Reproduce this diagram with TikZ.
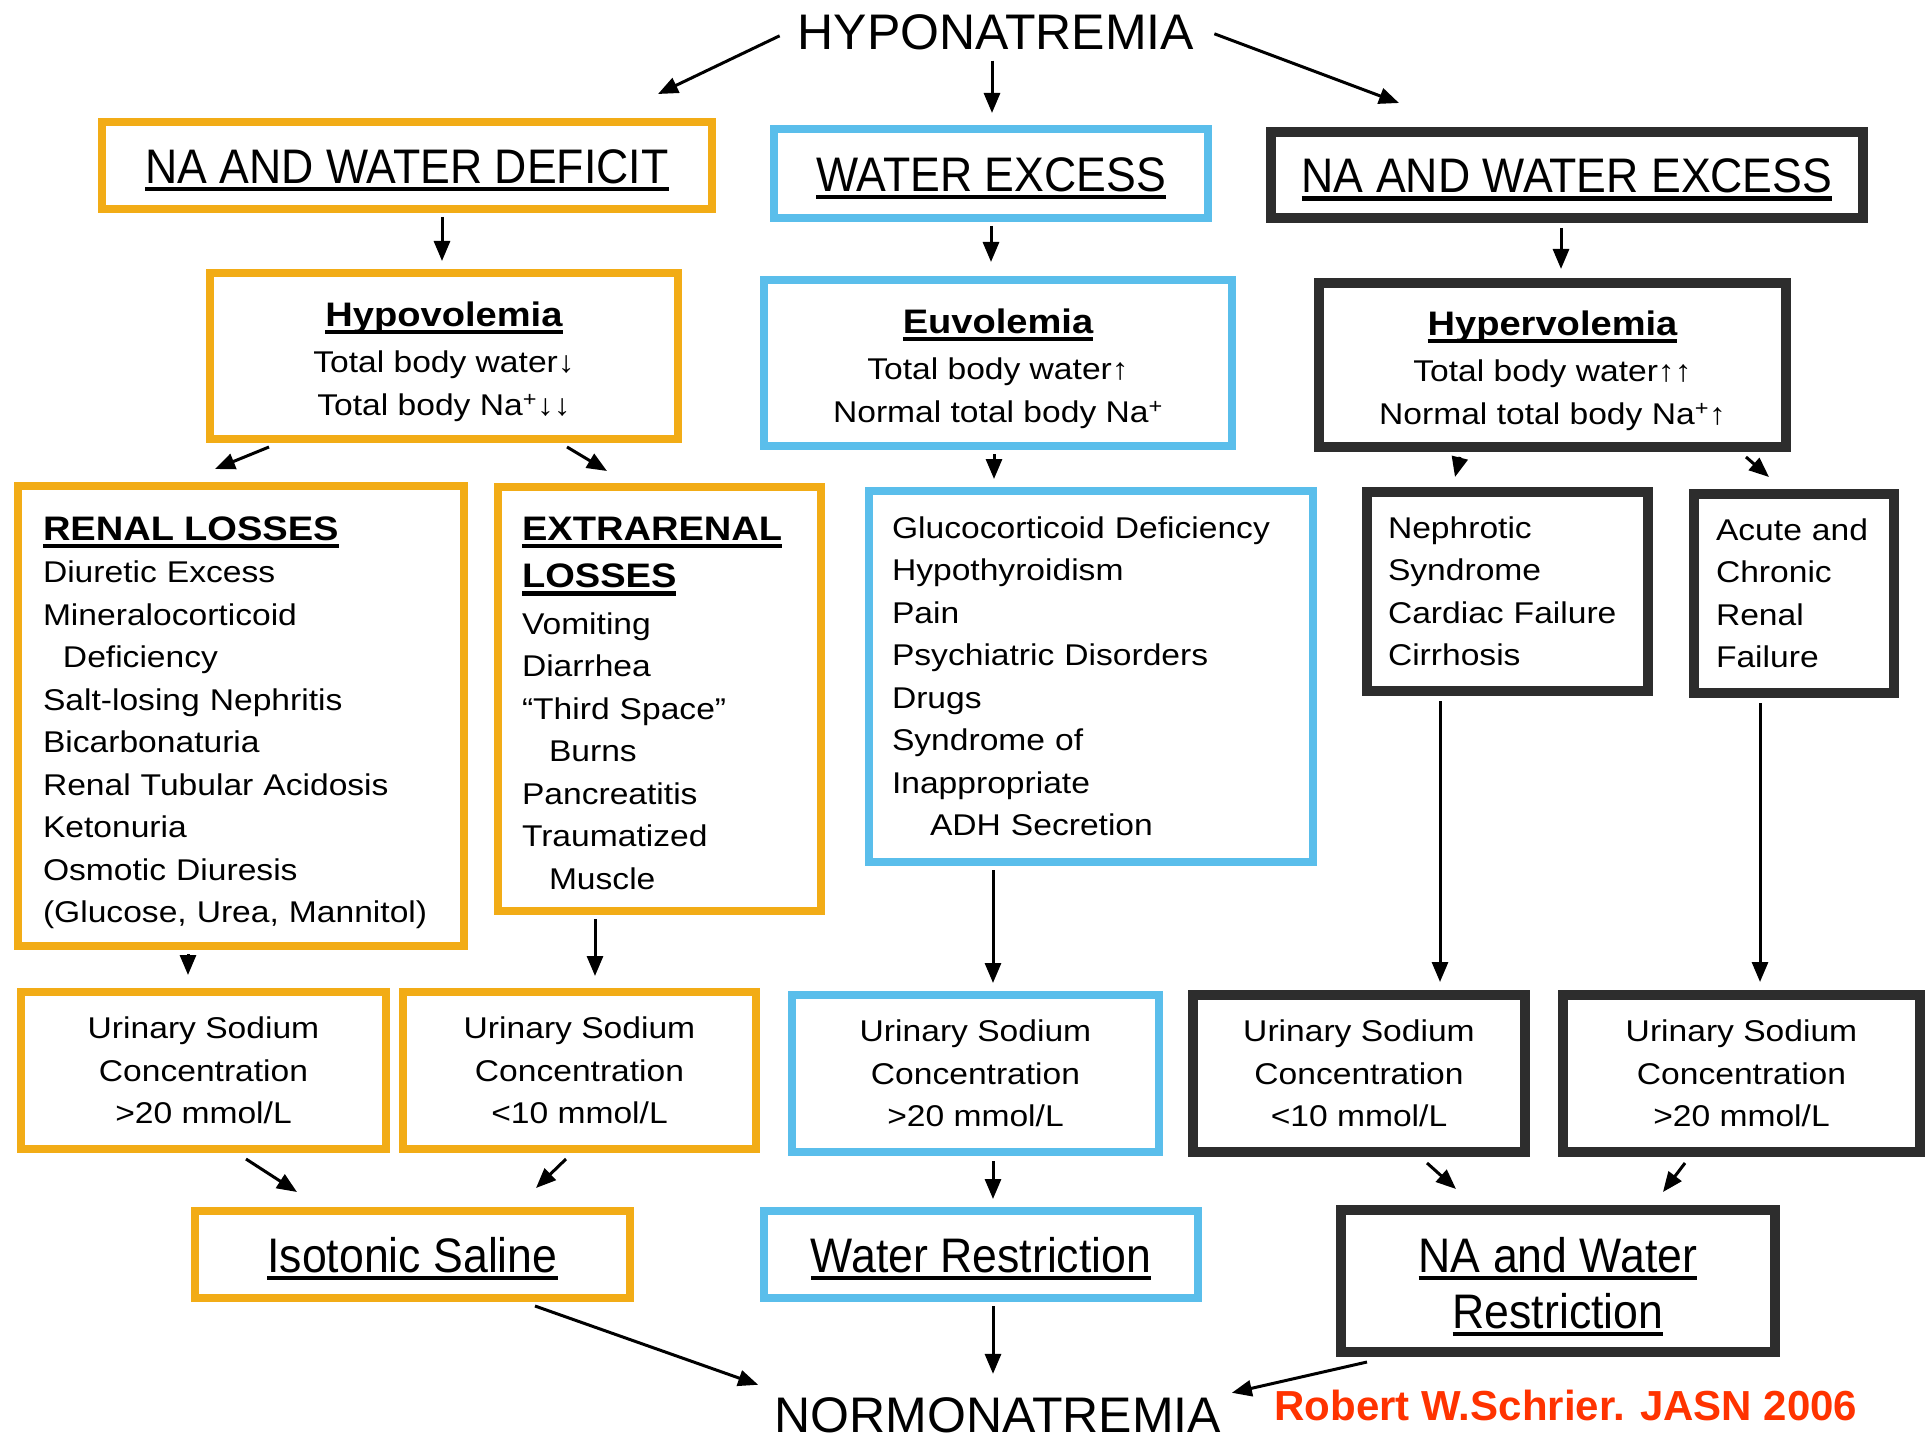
\documentclass[tikz,border=0pt]{standalone}
\usepackage{fontspec}
\setmainfont{Liberation Sans}
\newfontfamily\bodyf[FakeStretch=1.12]{Liberation Sans}
\newfontfamily\headf[FakeStretch=0.92]{Liberation Sans}
\usetikzlibrary{arrows.meta,calc}
\definecolor{boxorange}{RGB}{242,172,22}
\definecolor{boxblue}{RGB}{90,190,235}
\definecolor{boxdark}{RGB}{45,45,45}
\definecolor{creditred}{RGB}{255,51,0}
\newsavebox\ulbox
\newcommand\ulx[1]{\leavevmode\sbox\ulbox{#1}\rlap{\rule[-8pt]{\wd\ulbox}{4.5pt}}\usebox\ulbox}
\newcommand\bdfont{\bodyf\fontsize{30}{42.5}\selectfont}
\newcommand\sbfont{\bodyf\bfseries\fontsize{34}{42.5}\selectfont}
\newcommand\hdfont{\headf\fontsize{48.5}{56}\selectfont}
\newcommand\ttlfont{\fontsize{50}{56}\selectfont}
\newcommand\topstrut[1]{\rule{0pt}{#1}}
\begin{document}
\begin{tikzpicture}[x=1pt,y=-1pt,
  bx/.style={draw, fill=white, inner sep=0pt, align=center, font=\bdfont},
  ob/.style={bx, draw=boxorange, line width=8pt},
  bb/.style={bx, draw=boxblue, line width=8pt},
  db/.style={bx, draw=boxdark, line width=10pt},
  hd/.style={font=\hdfont, text height=35.5pt, text depth=0pt},
  lft/.style={align=left},
  ttl/.style={font=\ttlfont, inner sep=0pt, anchor=base},
  arr/.style={line width=3pt, draw=black, -{Triangle[length=20pt,width=16pt]}}]
\useasboundingbox (0,0) rectangle (1930,1439);
\fill[white] (0,0) rectangle (1930,1439);

% titles
\node[ttl] (hn) at (996,50) {HYPONATREMIA};
\node[ttl] (nn) at (998,1432) {NORMONATREMIA};
\node[inner sep=0pt, anchor=base, text=creditred, font=\bfseries\fontsize{42}{48}\selectfont] (cr) at (1566,1420) {Robert W.Schrier. JASN 2006};

% row 1
\node[ob, hd, minimum width=610, minimum height=87] (def) at (407,165.5) {\ulx{NA AND WATER DEFICIT}};
\node[bb, hd, minimum width=434, minimum height=89] (wex) at (991,173.5) {\ulx{WATER EXCESS}};
\node[db, hd, minimum width=592, minimum height=86] (nwex) at (1567,175) {\ulx{NA AND WATER EXCESS}};

% row 2
\node[ob, minimum width=468, minimum height=166] (hypo) at (444,356)
  {{\sbfont\topstrut{36pt}\ulx{Hypovolemia}}\\[4pt]Total body water↓\\Total body Na\textsuperscript{+}↓↓};
\node[bb, minimum width=468, minimum height=166] (euvo) at (998,363)
  {{\sbfont\topstrut{36pt}\ulx{Euvolemia}}\\[4pt]Total body water↑\\Normal total body Na\textsuperscript{+}};
\node[db, minimum width=467, minimum height=164] (hyper) at (1552.5,365)
  {{\sbfont\topstrut{36pt}\ulx{Hypervolemia}}\\[4pt]Total body water↑↑\\Normal total body Na\textsuperscript{+}↑};

% row 3
\node[ob, lft, minimum width=446, minimum height=460, text width=396, inner xsep=25] (renal) at (241,716)
  {{\sbfont\topstrut{37pt}\ulx{RENAL LOSSES}}\\
   Diuretic Excess\\
   Mineralocorticoid\\
   \hspace*{20pt}Deficiency\\
   Salt-losing Nephritis\\
   Bicarbonaturia\\
   Renal Tubular Acidosis\\
   Ketonuria\\
   Osmotic Diuresis\\
   (Glucose, Urea, Mannitol)};
\node[ob, lft, minimum width=323, minimum height=424, text width=275, inner xsep=24] (extra) at (659.5,699)
  {{\sbfont\topstrut{32pt}\ulx{EXTRARENAL}}\\[5pt]%
   {\sbfont\ulx{LOSSES}}\\[4pt]%
   Vomiting\\
   Diarrhea\\
   “Third Space”\\
   \hspace*{27pt}Burns\\
   Pancreatitis\\
   Traumatized\\
   \hspace*{27pt}Muscle};
\node[bb, lft, minimum width=444, minimum height=371, text width=398, inner xsep=23] (gluco) at (1091,676.5)
  {Glucocorticoid Deficiency\\
   Hypothyroidism\\
   Pain\\
   Psychiatric Disorders\\
   Drugs\\
   Syndrome of\\
   Inappropriate\\
   \hspace*{38pt}ADH Secretion};
\node[db, lft, minimum width=281, minimum height=199, text width=239, inner xsep=21] (neph) at (1507.5,591.5)
  {Nephrotic\\Syndrome\\Cardiac Failure\\Cirrhosis};
\node[db, lft, minimum width=200, minimum height=199, text width=156, inner xsep=22] (acute) at (1794,593.5)
  {Acute and\\Chronic\\Renal\\Failure};

% row 4
\node[ob, minimum width=365, minimum height=157] (u1) at (203.5,1070.5) {Urinary Sodium\\Concentration\\>20 mmol/L};
\node[ob, minimum width=353, minimum height=157] (u2) at (579.5,1070.5) {Urinary Sodium\\Concentration\\<10 mmol/L};
\node[bb, minimum width=367, minimum height=157] (u3) at (975.5,1073.5) {Urinary Sodium\\Concentration\\>20 mmol/L};
\node[db, minimum width=332, minimum height=157] (u4) at (1359,1073.5) {Urinary Sodium\\Concentration\\<10 mmol/L};
\node[db, minimum width=357, minimum height=157] (u5) at (1741.5,1073.5) {Urinary Sodium\\Concentration\\>20 mmol/L};

% row 5
\node[ob, hd, minimum width=435, minimum height=87] (iso) at (412.5,1254.5) {\ulx{Isotonic Saline}};
\node[bb, hd, minimum width=434, minimum height=87] (wr) at (981,1254.5) {\ulx{Water Restriction}};
\node[db, font=\hdfont, minimum width=434, minimum height=142] (nwr) at (1558,1281) {\topstrut{46pt}\ulx{NA and Water}\\\ulx{Restriction}};

% connectors
\draw[arr] ($(hn.west)+(-18,3)$) -- ($(def.north)+(251,-24)$);
\draw[arr] ($(hn.south)+(-4,10)$) -- ($(wex.north)+(1,-12)$);
\draw[arr] ($(hn.east)+(20,1)$) -- ($(nwex.north)+(-168,-24)$);
\draw[arr] ($(def.south)+(35,4)$) -- ($(hypo.north)+(-2,-8)$);
\draw[arr] ($(wex.south)+(0,4)$) -- ($(euvo.north)+(-7,-14)$);
\draw[arr] ($(nwex.south)+(-6,5)$) -- ($(hyper.north)+(8.5,-9)$);
\draw[arr] ($(hypo.south)+(-175,4)$) -- ($(renal.north)+(-26,-13)$);
\draw[arr] ($(hypo.south)+(123,4)$) -- ($(extra.north)+(-52.5,-12)$);
\draw[arr] ($(euvo.south)+(-4,4)$) -- ($(gluco.north)+(-97,-8)$);
\draw[arr] ($(hyper.south)+(-92.5,5)$) -- ($(neph.north)+(-52.5,-10)$);
\draw[arr] ($(hyper.south)+(193.5,5)$) -- ($(acute.north)+(-25,-12)$);
\draw[arr] ($(renal.south)+(-53,4)$) -- ($(u1.north)+(-15.5,-13)$);
\draw[arr] ($(extra.south)+(-64.5,4)$) -- ($(u2.north)+(15.5,-12)$);
\draw[arr] ($(gluco.south)+(-98,4)$) -- ($(u3.north)+(17.5,-8)$);
\draw[arr] ($(neph.south)+(-67.5,5)$) -- ($(u4.north)+(81,-8)$);
\draw[arr] ($(acute.south)+(-34,5)$) -- ($(u5.north)+(18.5,-8)$);
\draw[arr] ($(u1.south)+(42.5,6)$) -- ($(iso.north)+(-115.5,-15)$);
\draw[arr] ($(u2.south)+(-13.5,6)$) -- ($(iso.north)+(123.5,-19)$);
\draw[arr] ($(u3.south)+(17.5,5)$) -- ($(wr.north)+(12,-8)$);
\draw[arr] ($(u4.south)+(68,6)$) -- ($(nwr.north)+(-102,-16)$);
\draw[arr] ($(u5.south)+(-56.5,6)$) -- ($(nwr.north)+(105,-13)$);
\draw[arr] ($(iso.south)+(122.5,4)$) -- ($(nn.west)+(-16.5,-30)$);
\draw[arr] ($(wr.south)+(12,4)$) -- ($(nn.north)+(-5,-23)$);
\draw[arr] ($(nwr.south)+(-191,5)$) -- ($(nn.east)+(10.5,-22)$);
\end{tikzpicture}
\end{document}
